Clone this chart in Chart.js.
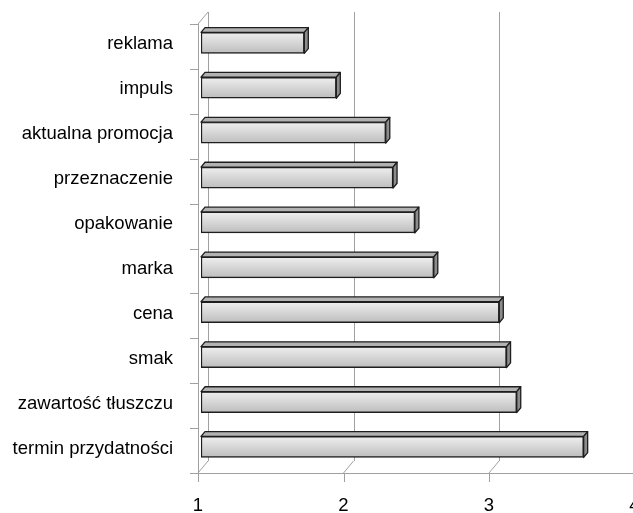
<!DOCTYPE html>
<html>
<head>
<meta charset="utf-8">
<script src="https://cdn.jsdelivr.net/npm/chart.js@4.4.1/dist/chart.umd.min.js"></script>
<style>
  html,body{ margin:0; padding:0; background:#fff; overflow:hidden; }
  #wrap{ position:absolute; left:0; top:0; width:645px; height:517px; }
</style>
</head>
<body>
<div id="wrap"><canvas id="chart" width="645" height="517"></canvas></div>
<script>
/* ======== DATA ======== */
const categories = ['reklama','impuls','aktualna promocja','przeznaczenie','opakowanie','marka','cena','smak','zawartość tłuszczu','termin przydatności'];
const scores = [1.71, 1.93, 2.27, 2.32, 2.47, 2.60, 3.05, 3.10, 3.17, 3.63];
const axisMin = 1, axisMax = 4, axisStep = 1;

/* ======== FAKE 3D BOX ======== */
// total depth of the box; bars sit from 30% to 70% of it
const DEPTH_X = 10, DEPTH_Y = -12;
const BAR_AT = 0.3, BAR_DEPTH = 0.4;
const BAR_H = 21;
const LINE = '#a0a0a0';
const FONT = { family: "'Liberation Sans', Arial, sans-serif", size: 18.5 };
const X_PAD = 25;

const box3d = {
  id: 'box3d',
  beforeDatasetsDraw(chart){
    const { ctx, chartArea: a, scales: { x: xs, y: ys } } = chart;
    const fx = -BAR_AT * DEPTH_X, fy = -BAR_AT * DEPTH_Y;           // front plane
    const bx = (1 - BAR_AT) * DEPTH_X, by = (1 - BAR_AT) * DEPTH_Y; // back wall
    const px = v => Math.round(v) + 0.5;
    const line = (x1, y1, x2, y2) => { ctx.beginPath(); ctx.moveTo(x1, y1); ctx.lineTo(x2, y2); ctx.stroke(); };
    ctx.save();
    ctx.strokeStyle = LINE; ctx.lineWidth = 1;
    for (let v = axisMin; v <= axisMax; v += axisStep){
      const x = xs.getPixelForValue(v);
      line(px(x + bx), a.top + by, px(x + bx), a.bottom + by);      // back wall gridline
      line(x + fx, a.bottom + fy, x + bx, a.bottom + by);           // floor diagonal
      line(px(x + fx), a.bottom + fy, px(x + fx), a.bottom + fy + 9); // tick
    }
    // left wall
    line(px(a.left + fx), a.top + fy, px(a.left + fx), a.bottom + fy);
    line(a.left + fx, a.top + fy, a.left + bx, a.top + by);
    // floor front edge
    line(a.left + fx, px(a.bottom + fy), xs.getPixelForValue(axisMax) + fx, px(a.bottom + fy));
    // category ticks
    for (let i = 0; i <= categories.length; i++){
      const y = ys.getPixelForValue(i - 0.5) + fy;
      line(a.left + fx - 8, px(y), a.left + fx, px(y));
    }
    ctx.restore();
  },
  afterDatasetsDraw(chart){
    const ctx = chart.ctx;
    const dx = BAR_DEPTH * DEPTH_X, dy = BAR_DEPTH * DEPTH_Y;
    ctx.save();
    ctx.strokeStyle = '#1e1e1e'; ctx.lineWidth = 1.3; ctx.lineJoin = 'round';
    chart.getDatasetMeta(0).data.forEach(bar => {
      const { x, y, base, height } = bar.getProps(['x', 'y', 'base', 'height'], true);
      const t = y - height / 2, b = y + height / 2;
      // top face
      ctx.beginPath();
      ctx.moveTo(base, t); ctx.lineTo(base + dx, t + dy); ctx.lineTo(x + dx, t + dy); ctx.lineTo(x, t); ctx.closePath();
      ctx.fillStyle = '#b2b2b2'; ctx.fill(); ctx.stroke();
      // right face
      ctx.beginPath();
      ctx.moveTo(x, t); ctx.lineTo(x + dx, t + dy); ctx.lineTo(x + dx, b + dy); ctx.lineTo(x, b); ctx.closePath();
      ctx.fillStyle = '#8c8c8c'; ctx.fill(); ctx.stroke();
    });
    ctx.restore();
  }
};

function frontGradient(c){
  const ys = c.chart.scales.y;
  if (!ys || c.dataIndex == null) return '#d6d6d6';
  const yc = ys.getPixelForValue(c.dataIndex);
  if (!isFinite(yc)) return '#d6d6d6';
  const g = c.chart.ctx.createLinearGradient(0, yc - BAR_H / 2, 0, yc + BAR_H / 2);
  g.addColorStop(0, '#efefef');
  g.addColorStop(1, '#bdbdbd');
  return g;
}

/* ======== CHART ======== */
new Chart(document.getElementById('chart'), {
  type: 'bar',
  data: {
    labels: categories,
    datasets: [{
      data: scores,
      base: axisMin,
      backgroundColor: frontGradient,
      borderColor: '#1e1e1e',
      borderWidth: 1.5,
      borderSkipped: false,
      barThickness: BAR_H
    }]
  },
  options: {
    responsive: false,
    animation: false,
    indexAxis: 'y',
    layout: { padding: { top: 20.4, right: 7.5, bottom: 0, left: 0 } },
    plugins: { legend: { display: false }, tooltip: { enabled: false } },
    scales: {
      x: {
        min: axisMin, max: axisMax,
        ticks: { stepSize: axisStep, padding: X_PAD, labelOffset: -3, color: '#000', font: FONT },
        grid: { display: false, drawTicks: false },
        border: { display: false },
        afterFit: s => { s.height = 47.6; s.paddingLeft = 0; s.paddingRight = 0; }
      },
      y: {
        ticks: { padding: 28, labelOffset: 1.5, color: '#000', font: FONT },
        grid: { display: false, drawTicks: false },
        border: { display: false },
        afterFit: s => { s.width = 201; s.paddingTop = 0; s.paddingBottom = 0; }
      }
    }
  },
  plugins: [box3d]
});
</script>
</body>
</html>
